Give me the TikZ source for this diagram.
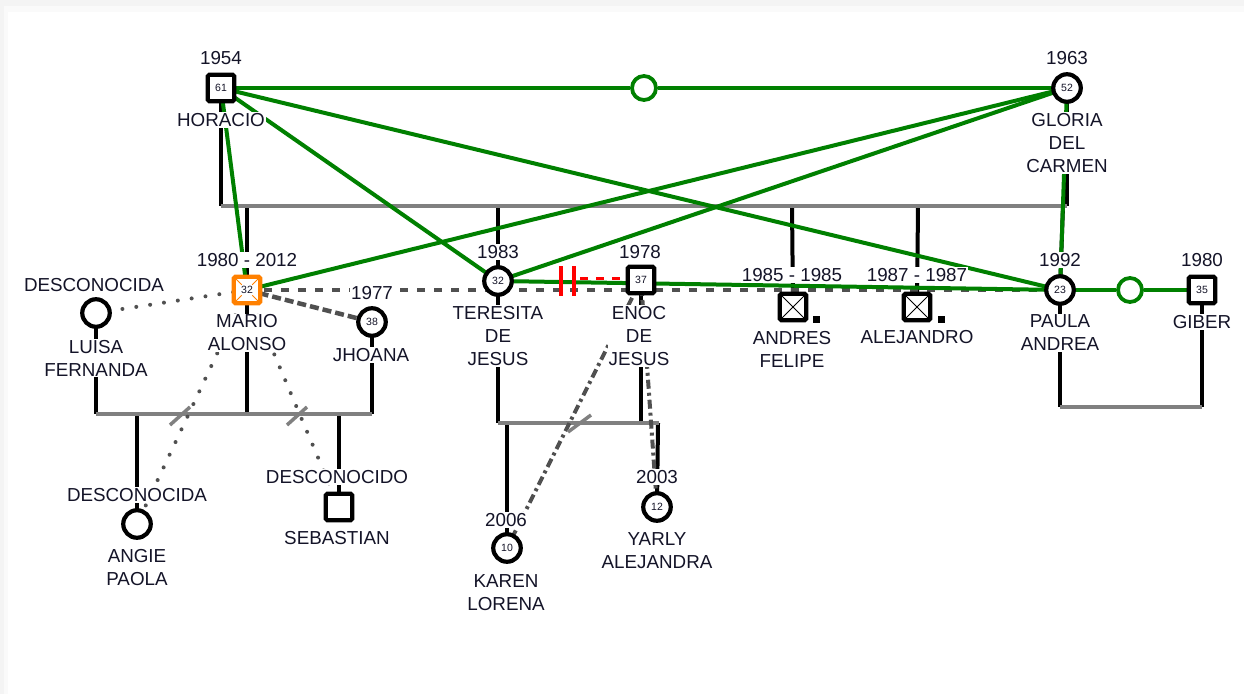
\documentclass[tikz,border=0pt]{standalone}
\usepackage{fontspec}
\setmainfont{Liberation Sans}
\definecolor{grn}{RGB}{0,128,0}
\definecolor{famc}{RGB}{128,128,128}
\definecolor{dk}{RGB}{80,80,80}
\definecolor{org}{RGB}{255,128,0}
\definecolor{txt}{RGB}{20,20,40}
\pgfdeclarelayer{back}
\pgfdeclarelayer{lines}
\pgfsetlayers{back,lines,main}
\begin{document}
\begin{tikzpicture}[x=1pt,y=-1pt,
  person/.style={draw=black, line width=4.2pt, fill=white, inner sep=0pt, text=txt, font=\fontsize{10.5}{12}\selectfont},
  male/.style={person, rectangle, rounded corners=1.5pt, minimum size=26.5pt},
  female/.style={person, circle, minimum size=27.5pt},
  dead/.style={path picture={\draw[line width=0.9pt] (path picture bounding box.north west) -- (path picture bounding box.south east) (path picture bounding box.north east) -- (path picture bounding box.south west);}},
  lbl/.style={fill=white, inner sep=1pt, align=center, text=txt, font=\fontsize{18.8}{23}\selectfont},
  famline/.style={draw=famc, line width=4pt},
  desc/.style={draw=black, line width=4pt},
  rel/.style={draw=grn, line width=4pt},
  relcirc/.style={draw=grn, line width=3.8pt, circle, minimum size=24pt, inner sep=0pt},
  dashrel/.style={draw=dk, line width=4pt, dash pattern=on 8pt off 9pt},
  thickdash/.style={draw=dk, line width=4.5pt, dash pattern=on 9pt off 4pt},
  dotrel/.style={draw=dk, line width=4pt, line cap=round, dash pattern=on 0pt off 14pt},
  dashdotrel/.style={draw=dk, line width=4pt, dash pattern=on 9pt off 4pt on 3pt off 4pt},
  slash/.style={draw=famc, line width=3.5pt},
  sep/.style={draw=red, line width=4pt}
]
\useasboundingbox (0,0) rectangle (1244,694);
\begin{pgfonlayer}{back}
\fill[gray!9] (0,0) rectangle (1244,694);
\fill[gray!4] (4,6) rectangle (1244,694);
\fill[white] (8,12) rectangle (1244,694);
\end{pgfonlayer}

% persons
\node[male] (H) at (221,88) {61};
\node[female] (G) at (1067,88) {52};
\node[male, draw=org, path picture={\draw[org, line width=0.9pt]
   (path picture bounding box.north west) -- ++(8pt,-8pt)
   (path picture bounding box.north east) -- ++(-8pt,-8pt)
   (path picture bounding box.south west) -- ++(8pt,8pt)
   (path picture bounding box.south east) -- ++(-8pt,8pt);}] (M) at (247,290) {32};
\node[female] (T) at (498,281) {32};
\node[male] (E) at (641,280) {37};
\node[male, dead] (A) at (793,307) {};
\node[male, dead] (AL) at (917,307) {};
\node[female] (P) at (1060,290) {23};
\node[male] (GB) at (1202,290) {35};
\node[female] (L) at (96,313) {};
\node[female] (J) at (372,322) {38};
\node[female] (AP) at (137,524) {};
\node[male] (S) at (339,507) {};
\node[female] (K) at (507,548) {10};
\node[female] (Y) at (657,507) {12};
\node[fill=black, minimum size=7pt, inner sep=0pt] (Ad) at (816,319) {};
\node[fill=black, minimum size=7pt, inner sep=0pt] (ALd) at (941,319) {};

% labels
\node[lbl] (Hy) at (221,58) {1954};
\node[lbl] (Hn) at (221,120) {HORACIO};
\node[lbl] (Gy) at (1067,58) {1963};
\node[lbl] (Gn) at (1067,143) {GLORIA\\DEL\\CARMEN};
\node[lbl] (My) at (247,260) {1980 - 2012};
\node[lbl] (Mn) at (247,333) {MARIO\\ALONSO};
\node[lbl] (Ty) at (498,252) {1983};
\node[lbl] (Tn) at (498,336) {TERESITA\\DE\\JESUS};
\node[lbl] (Ey) at (640,252) {1978};
\node[lbl] (En) at (639,336) {ENOC\\DE\\JESUS};
\node[lbl] (Ay) at (792,275) {1985 - 1985};
\node[lbl] (An) at (792,349) {ANDRES\\FELIPE};
\node[lbl] (ALy) at (917,275) {1987 - 1987};
\node[lbl] (ALn) at (917,337) {ALEJANDRO};
\node[lbl] (Py) at (1060,260) {1992};
\node[lbl] (Pn) at (1060,333) {PAULA\\ANDREA};
\node[lbl] (GBy) at (1202,260) {1980};
\node[lbl] (GBn) at (1202,322) {GIBER};
\node[lbl] (Ly) at (94,285) {DESCONOCIDA};
\node[lbl] (Ln) at (96,358) {LUISA\\FERNANDA};
\node[lbl] (Jy) at (372,293) {1977};
\node[lbl] (Jn) at (371,355) {JHOANA};
\node[lbl] (APy) at (137,495) {DESCONOCIDA};
\node[lbl] (APn) at (137,568) {ANGIE\\PAOLA};
\node[lbl] (Sy) at (337,477) {DESCONOCIDO};
\node[lbl] (Sn) at (337,538) {SEBASTIAN};
\node[lbl] (Ky) at (506,520) {2006};
\node[lbl] (Kn) at (506,593) {KAREN\\LORENA};
\node[lbl] (Yy) at (657,477) {2003};
\node[lbl] (Yn) at (657,551) {YARLY\\ALEJANDRA};

% relationship symbols
\node[relcirc] (c1) at (644,88) {};
\node[relcirc] (c2) at (1130,290) {};

\begin{pgfonlayer}{lines}
% family lines
\coordinate (f1) at (221,206);
\coordinate (f2) at (1067,206);
\draw[desc] (H.center) -- (f1);
\draw[desc] (G.center) -- (f2);
\draw[desc] (247,206) -- (M.center);
\draw[desc] (498,206) -- (T.center);
\draw[desc] (792,206) -- (A.center);
\draw[desc] (918,206) -- (AL.center);
\draw[desc] (1063,206) -- (P.center);
\draw[famline] (f1) -- (f2);

\coordinate (f3) at (96,414);
\coordinate (f4) at (372,414);
\draw[desc] (L.center) -- (f3);
\draw[desc] (M.center) -- (247,414);
\draw[desc] (J.center) -- (f4);
\draw[desc] (137,414) -- (AP.center);
\draw[desc] (339,414) -- (S.center);
\draw[famline] (f3) -- (f4);

\coordinate (f5) at (498,423);
\coordinate (f6) at (659,423);
\draw[desc] (T.center) -- (f5);
\draw[desc] (E.center) -- (641,423);
\draw[desc] (507,423) -- (K.center);
\draw[desc] (658,423) -- (Y.center);
\draw[famline] (f5) -- (f6);

\coordinate (f7) at (1060,407);
\coordinate (f8) at (1202,407);
\draw[desc] (P.center) -- (f7);
\draw[desc] (GB.center) -- (f8);
\draw[famline] (f7) -- (f8);

% grey / dark relations
\draw[dashrel] (M.center) -- (P.center);
\draw[thickdash] (M.center) -- (J.center);
\draw[dotrel] (M.center) -- (L.center);
\draw[dotrel] (M.center) -- (AP.center);
\draw[dotrel] (M.center) -- (S.center);
\draw[dashdotrel] (E.center) -- (K.center);
\draw[dashdotrel] (E.center) -- (Y.center);
\draw[slash] (170,425) -- (190,407);
\draw[slash] (287,425) -- (307,407);
\draw[slash] (568,432) -- (591,415);

% red marriage line (visible part after the separation bars)
\coordinate (rs) at (580,278);
\draw[draw=red, line width=3pt, dash pattern=on 8pt off 8pt] (rs) -- (E.center |- rs);

% green relations
\draw[rel] (H.center) -- (c1) -- (G.center);
\draw[rel] (H.center) -- (T.center);
\draw[rel] (H.center) -- (P.center);
\draw[rel] (H.center) -- (M.center);
\draw[rel] (G.center) -- (M.center);
\draw[rel] (G.center) -- (T.center);
\draw[rel] (G.center) -- (P.center);
\draw[rel] (T.center) -- (P.center);
\draw[rel] (P.center) -- (c2) -- (GB.center);

\draw[sep] (561,266) -- (561,296);
\draw[sep] (574,266) -- (574,296);
\end{pgfonlayer}
\end{tikzpicture}
\end{document}
